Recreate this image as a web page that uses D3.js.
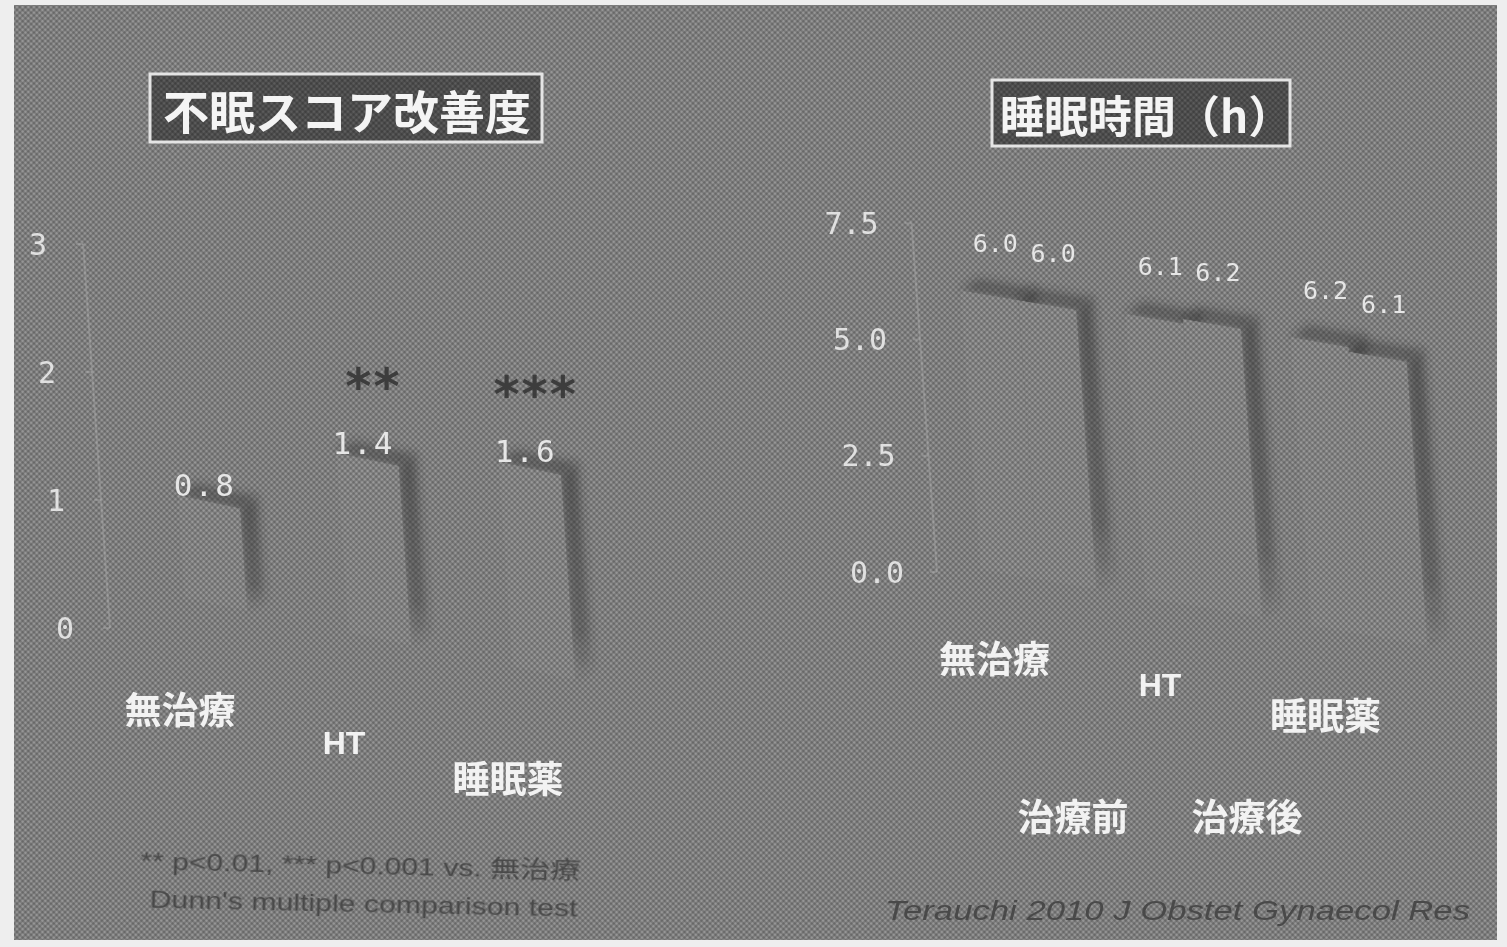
<!DOCTYPE html>
<html>
<head>
<meta charset="utf-8">
<script src="https://cdn.jsdelivr.net/npm/d3@7"></script>
<style>
  html, body { margin: 0; padding: 0; background: #eeeeee; }
  svg { display: block; }
</style>
</head>
<body>
<svg id="chart" width="1507" height="947"></svg>
<script>
// ---- Insomnia score improvement (one bar per treatment) ----
const scoreCategories = ["無治療", "HT", "睡眠薬"];
const scoreValues = [0.8, 1.4, 1.6];
const scoreValueLabels = ["0.8", "1.4", "1.6"];
const scoreStars = ["", "**", "***"];
const scoreTicks = [0, 1, 2, 3];
const scoreTickLabels = ["0", "1", "2", "3"];

// ---- Sleep duration (h), before / after treatment ----
const sleepCategories = ["無治療", "HT", "睡眠薬"];
const sleepSeries = ["治療前", "治療後"];
const sleepBefore = [6.0, 6.1, 6.2];
const sleepAfter = [6.0, 6.2, 6.1];
const sleepTicks = [0, 2.5, 5, 7.5];
const sleepTickLabels = ["0.0", "2.5", "5.0", "7.5"];

const footnoteLines = ["** p<0.01, *** p<0.001 vs. 無治療", "Dunn's multiple comparison test"];
const citation = "Terauchi 2010 J Obstet Gynaecol Res";

const svg = d3.select("#chart");
const defs = svg.append("defs");

// screened grey used for the slide and the bar fronts
function screenPattern(id, base, light, dark) {
  const p = defs.append("pattern").attr("id", id)
    .attr("width", 4).attr("height", 4)
    .attr("patternUnits", "userSpaceOnUse")
    .attr("patternTransform", "rotate(45)");
  p.append("rect").attr("width", 4).attr("height", 4).attr("fill", base);
  p.append("rect").attr("width", 2).attr("height", 2).attr("fill", light);
  p.append("rect").attr("x", 2).attr("y", 2).attr("width", 2).attr("height", 2).attr("fill", dark);
}
screenPattern("screen", "#7c7c7c", "#969696", "#686868");
screenPattern("screenLight", "#7f7f7f", "#999999", "#6b6b6b");
screenPattern("screenDark", "#4c4c4c", "#5c5c5c", "#404040");

const soft = defs.append("filter").attr("id", "soft")
  .attr("x", "-80%").attr("y", "-30%").attr("width", "260%").attr("height", "160%");
soft.append("feGaussianBlur").attr("stdDeviation", 5);

const haze = defs.append("filter").attr("id", "haze")
  .attr("x", "-10%").attr("y", "-30%").attr("width", "120%").attr("height", "160%");
haze.append("feGaussianBlur").attr("stdDeviation", 0.7);

const sideGrad = defs.append("linearGradient").attr("id", "sideShade")
  .attr("x1", 0).attr("y1", 0).attr("x2", 0).attr("y2", 1);
sideGrad.append("stop").attr("offset", "0%").attr("stop-color", "#2e2e2e").attr("stop-opacity", 0.5);
sideGrad.append("stop").attr("offset", "75%").attr("stop-color", "#2e2e2e").attr("stop-opacity", 0.38);
sideGrad.append("stop").attr("offset", "100%").attr("stop-color", "#2e2e2e").attr("stop-opacity", 0.05);

// slide panel
svg.append("rect").attr("x", 14).attr("y", 5).attr("width", 1483).attr("height", 935)
  .attr("fill", "url(#screen)");

// oblique projection: lx along the category axis, ly along the value axis (negative = up)
function projection(ox, oy, slope, lean) {
  return (lx, ly) => [ox + lx + ly * lean, oy + ly + lx * slope];
}
const polyPath = pts => d3.line()(pts) + "Z";
const DEPTH = [17, -12];
const shift = p => [p[0] + DEPTH[0], p[1] + DEPTH[1]];

function drawBar(shadeLayer, frontLayer, proj, x0, x1, ly) {
  const bl = proj(x0, 0), br = proj(x1, 0), tr = proj(x1, ly), tl = proj(x0, ly);
  shadeLayer.append("path").attr("d", polyPath([tl, tr, shift(tr), shift(tl)]))
    .attr("fill", "#2e2e2e").attr("fill-opacity", 0.42).attr("filter", "url(#soft)");
  shadeLayer.append("path").attr("d", polyPath([tr, shift(tr), shift(br), br]))
    .attr("fill", "url(#sideShade)").attr("filter", "url(#soft)");
  frontLayer.append("path").attr("d", polyPath([bl, br, tr, tl]))
    .attr("fill", "url(#screenLight)");
}

function drawAxis(g, axisProj, yScale, ticks, labels, top, labelDx) {
  const a0 = axisProj(0, 0), a1 = axisProj(0, yScale(top));
  g.append("line").attr("x1", a0[0]).attr("y1", a0[1]).attr("x2", a1[0]).attr("y2", a1[1])
    .attr("stroke", "#b4b4b4").attr("stroke-opacity", 0.35).attr("stroke-width", 2);
  ticks.forEach((t, i) => {
    const p = axisProj(0, yScale(t));
    g.append("line").attr("x1", p[0] - 7).attr("y1", p[1]).attr("x2", p[0]).attr("y2", p[1])
      .attr("stroke", "#b4b4b4").attr("stroke-opacity", 0.35).attr("stroke-width", 2);
    g.append("text").attr("x", p[0] + labelDx).attr("y", p[1])
      .attr("text-anchor", "middle").attr("dominant-baseline", "central")
      .attr("font-family", "DejaVu Sans Mono, monospace").attr("font-size", 30)
      .attr("fill", "#e0e0e0").attr("filter", "url(#haze)")
      .text(labels[i]);
  });
}

const valueFont = "DejaVu Sans Mono, monospace";
const cjkFont = "'Noto Sans CJK JP', 'Noto Sans', sans-serif";

// ================= Left: 不眠スコア改善度 =================
{
  const g = svg.append("g");
  const yScale = d3.scaleLinear().domain([0, 3]).range([0, -384]);
  const xScale = d3.scaleBand().domain(scoreCategories).range([24, 516])
    .paddingInner(0.62).paddingOuter(0.31);
  const barProj = projection(110, 582, 0.21, 0.07);
  const axisProj = projection(110, 628, 0, 0.07);

  drawAxis(g, axisProj, yScale, scoreTicks, scoreTickLabels, 3, -45);

  const shade = g.append("g"), front = g.append("g"), labels = g.append("g");
  scoreCategories.forEach((c, i) => {
    const x0 = xScale(c), x1 = x0 + xScale.bandwidth();
    const ly = yScale(scoreValues[i]);
    drawBar(shade, front, barProj, x0, x1, ly);

    const top = barProj((x0 + x1) / 2, ly);
    labels.append("text").attr("x", top[0] - 4).attr("y", top[1] - 17)
      .attr("text-anchor", "middle").attr("dominant-baseline", "central")
      .attr("font-family", valueFont).attr("font-size", 31).attr("letter-spacing", 2)
      .attr("fill", "#e6e6e6").attr("filter", "url(#haze)")
      .text(scoreValueLabels[i]);
    if (scoreStars[i]) {
      labels.append("text").attr("x", top[0] + 6).attr("y", top[1] - 56)
        .attr("text-anchor", "middle")
        .attr("font-family", "DejaVu Sans, sans-serif").attr("font-weight", "bold")
        .attr("font-size", 50).attr("letter-spacing", 2)
        .attr("fill", "#3c3c3c").attr("filter", "url(#haze)")
        .text(scoreStars[i]);
    }
    const base = barProj((x0 + x1) / 2, 0);
    labels.append("text").attr("x", base[0] - 36).attr("y", base[1] + 104)
      .attr("text-anchor", "middle").attr("dominant-baseline", "central")
      .attr("font-family", c === "HT" ? "'Liberation Sans', Arial, sans-serif" : cjkFont)
      .attr("font-weight", "bold").attr("font-size", c === "HT" ? 32 : 37)
      .attr("fill", "#f2f2f2").attr("filter", "url(#haze)")
      .text(c);
  });

  // title box
  g.append("rect").attr("x", 150).attr("y", 74).attr("width", 392).attr("height", 68)
    .attr("fill", "url(#screenDark)").attr("stroke", "#e4e4e4").attr("stroke-width", 3);
  g.append("text").attr("x", 347).attr("y", 109)
    .attr("text-anchor", "middle").attr("dominant-baseline", "central")
    .attr("font-family", cjkFont).attr("font-weight", "bold").attr("font-size", 46)
    .attr("fill", "#f4f4f4").attr("filter", "url(#haze)")
    .text("不眠スコア改善度");

  // footnote
  const foot = g.append("g").attr("transform", "rotate(1.2 360 885)")
    .attr("filter", "url(#haze)");
  foot.append("text").attr("x", 140).attr("y", 874)
    .attr("textLength", 440).attr("lengthAdjust", "spacingAndGlyphs")
    .attr("font-family", "'Liberation Sans', Arial, 'Noto Sans CJK JP', sans-serif")
    .attr("font-size", 24).attr("fill", "#4a4a4a")
    .text(footnoteLines[0]);
  foot.append("text").attr("x", 150).attr("y", 912)
    .attr("textLength", 428).attr("lengthAdjust", "spacingAndGlyphs")
    .attr("font-family", "'Liberation Sans', Arial, sans-serif")
    .attr("font-size", 24).attr("fill", "#4a4a4a")
    .text(footnoteLines[1]);
}

// ================= Right: 睡眠時間 (h) =================
{
  const g = svg.append("g");
  const yScale = d3.scaleLinear().domain([0, 7.5]).range([0, -348.75]);
  const xScale = d3.scaleBand().domain(sleepCategories).range([-6, 540])
    .paddingInner(0.3).paddingOuter(0.3);
  const xInner = d3.scaleBand().domain(sleepSeries).range([0, xScale.bandwidth()]);
  const barProj = projection(937, 562, 0.17, 0.073);
  const axisProj = projection(937, 572, 0, 0.073);
  const seriesValues = [sleepBefore, sleepAfter];

  drawAxis(g, axisProj, yScale, sleepTicks, sleepTickLabels, 7.5, -60);

  const shade = g.append("g"), front = g.append("g"), labels = g.append("g");
  sleepCategories.forEach((c, i) => {
    sleepSeries.forEach((s, j) => {
      const x0 = xScale(c) + xInner(s), x1 = x0 + xInner.bandwidth();
      const v = seriesValues[j][i];
      const ly = yScale(v);
      drawBar(shade, front, barProj, x0, x1, ly);
      const top = barProj((x0 + x1) / 2, ly);
      labels.append("text").attr("x", top[0] + 6).attr("y", top[1] - 52)
        .attr("text-anchor", "middle").attr("dominant-baseline", "central")
        .attr("font-family", valueFont).attr("font-size", 25)
        .attr("fill", "#e6e6e6").attr("filter", "url(#haze)")
        .text(v.toFixed(1));
    });
    const base = barProj(xScale(c) + xScale.bandwidth() / 2, 0);
    labels.append("text").attr("x", base[0] - 44).attr("y", base[1] + 78)
      .attr("text-anchor", "middle").attr("dominant-baseline", "central")
      .attr("font-family", c === "HT" ? "'Liberation Sans', Arial, sans-serif" : cjkFont)
      .attr("font-weight", "bold").attr("font-size", c === "HT" ? 32 : 37)
      .attr("fill", "#f2f2f2").attr("filter", "url(#haze)")
      .text(c);
  });

  // series legend
  const legendX = d3.scalePoint().domain(sleepSeries).range([1073, 1247]);
  sleepSeries.forEach(s => {
    g.append("text").attr("x", legendX(s)).attr("y", 815)
      .attr("text-anchor", "middle").attr("dominant-baseline", "central")
      .attr("font-family", cjkFont).attr("font-weight", "bold").attr("font-size", 37)
      .attr("fill", "#f2f2f2").attr("filter", "url(#haze)")
      .text(s);
  });

  // title box
  g.append("rect").attr("x", 992).attr("y", 80).attr("width", 298).attr("height", 66)
    .attr("fill", "url(#screenDark)").attr("stroke", "#e4e4e4").attr("stroke-width", 3);
  g.append("text").attr("x", 1000).attr("y", 114)
    .attr("dominant-baseline", "central")
    .attr("font-family", cjkFont).attr("font-weight", "bold").attr("font-size", 44)
    .attr("fill", "#f4f4f4").attr("filter", "url(#haze)")
    .text("睡眠時間（h）");

  // source
  g.append("text").attr("x", 885).attr("y", 920)
    .attr("textLength", 585).attr("lengthAdjust", "spacingAndGlyphs")
    .attr("font-family", "'Liberation Sans', Arial, sans-serif").attr("font-style", "italic")
    .attr("font-size", 28).attr("fill", "#4a4a4a").attr("filter", "url(#haze)")
    .text(citation);
}
</script>
</body>
</html>
